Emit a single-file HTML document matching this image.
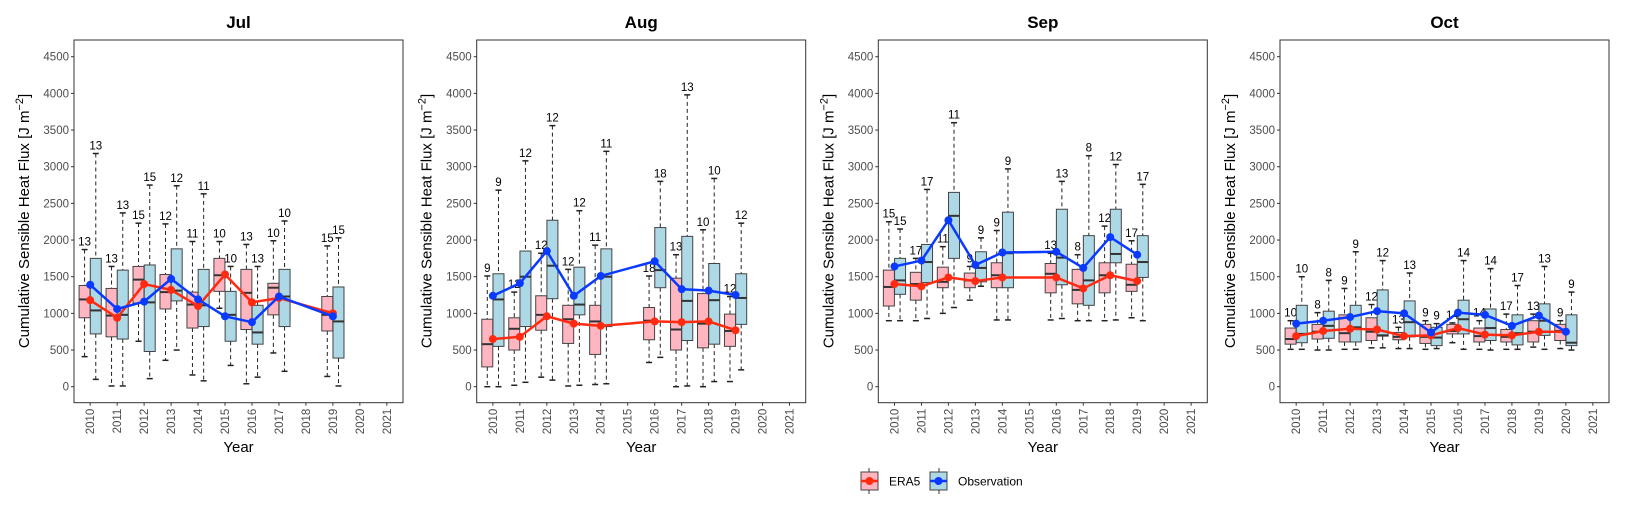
<!DOCTYPE html>
<html><head><meta charset="utf-8"><style>
body{margin:0;background:#fff;}
svg{display:block;font-family:"Liberation Sans",Arial,sans-serif;}
</style></head><body>
<svg id="chart" width="1626" height="507" viewBox="0 0 1626 507" xmlns="http://www.w3.org/2000/svg"></svg>
<script>
const years = [2010,2011,2012,2013,2014,2015,2016,2017,2018,2019,2020,2021];
const yTicks = [0,500,1000,1500,2000,2500,3000,3500,4000,4500];
const months = ["Jul","Aug","Sep","Oct"];
// rows: [year, min, q1, median, q3, max, n, mean]
const julEra = [[2010,410,940,1190,1380,1870,13,1180],[2011,10,680,970,1340,1640,13,940],[2012,620,1140,1460,1640,2230,15,1400],[2013,360,1060,1290,1530,2220,12,1320],[2014,160,800,1120,1290,1980,11,1100],[2015,1070,1300,1520,1750,1980,10,1530],[2016,40,780,1280,1600,1940,13,1150],[2017,460,980,1350,1410,1990,10,1210],[2019,140,760,980,1230,1920,15,1000]];
const julObs = [[2010,100,720,1040,1750,3180,13,1390],[2011,10,650,980,1590,2370,13,1060],[2012,110,480,1150,1660,2750,15,1160],[2013,500,1170,1310,1880,2740,12,1470],[2014,80,820,1110,1600,2630,11,1190],[2015,290,620,980,1300,1640,10,960],[2016,130,580,740,1110,1640,13,880],[2017,210,820,1230,1600,2260,10,1230],[2019,10,390,890,1360,2030,15,960]];
const augEra = [[2010,0,270,580,920,1510,9,650],[2011,20,500,790,940,1290,12,680],[2012,130,770,980,1240,1820,12,960],[2013,10,590,920,1110,1600,12,860],[2014,30,440,890,1110,1930,11,830],[2016,330,640,900,1080,1510,18,890],[2017,0,500,780,1480,1800,13,880],[2018,0,530,860,1270,2140,10,890],[2019,70,550,760,990,1230,12,770]];
const augObs = [[2010,0,550,1190,1540,2680,9,1240],[2011,60,820,1500,1850,3080,12,1410],[2012,90,1200,1650,2270,3560,12,1850],[2013,20,980,1120,1630,2400,12,1240],[2014,40,820,1500,1880,3210,11,1510],[2016,400,1350,1590,2170,2800,18,1710],[2017,10,630,1170,2050,3980,13,1330],[2018,70,580,1180,1680,2840,10,1310],[2019,230,850,1210,1540,2230,12,1250]];
const sepEra = [[2010,900,1100,1360,1590,2250,15,1400],[2011,900,1180,1400,1560,1750,17,1370],[2012,1000,1350,1430,1630,1910,11,1490],[2013,1180,1350,1450,1550,1640,9,1440],[2014,910,1350,1520,1690,2130,9,1490],[2016,910,1280,1540,1680,1820,13,1490],[2017,900,1130,1320,1600,1800,8,1340],[2018,900,1280,1520,1690,2190,12,1520],[2019,940,1300,1390,1670,1990,17,1440]];
const sepObs = [[2010,900,1260,1450,1750,2150,15,1640],[2011,930,1420,1700,1940,2690,17,1720],[2012,1080,1750,2330,2650,3600,11,2270],[2013,1370,1430,1620,1840,2030,9,1660],[2014,910,1350,1820,2380,2970,9,1830],[2016,930,1390,1760,2420,2800,13,1840],[2017,900,1110,1450,2060,3150,8,1620],[2018,910,1690,1810,2420,3030,12,2040],[2019,900,1490,1700,2060,2760,17,1800]];
const octEra = [[2010,510,580,650,800,900,10,690],[2011,500,650,750,850,1010,8,760],[2012,510,610,730,980,1340,9,790],[2013,530,630,750,940,1120,12,780],[2014,520,640,680,740,810,13,690],[2015,510,590,680,850,900,9,700],[2016,600,720,760,850,870,14,800],[2017,510,610,690,800,900,14,710],[2018,510,610,680,780,990,17,700],[2019,540,610,750,900,990,13,750],[2020,520,630,760,850,900,9,750]];
const octObs = [[2010,510,600,720,1110,1500,10,860],[2011,500,660,830,1030,1450,8,900],[2012,510,610,810,1110,1840,9,950],[2013,530,690,700,1320,1720,12,1030],[2014,520,680,880,1170,1550,13,1000],[2015,520,560,670,810,860,9,740],[2016,510,720,920,1180,1720,14,1010],[2017,500,630,800,1060,1610,14,980],[2018,510,570,730,980,1380,17,830],[2019,510,700,900,1130,1640,13,970],[2020,500,560,600,980,1290,9,750]];
const eraSets = [julEra,augEra,sepEra,octEra];
const obsSets = [julObs,augObs,sepObs,octObs];

const svg = document.getElementById('chart');
const NS = "http://www.w3.org/2000/svg";
function mk(tag, attrs, parent, text){
  const e = document.createElementNS(NS, tag);
  for (const k in attrs) e.setAttribute(k, attrs[k]);
  if (text !== undefined) e.textContent = text;
  (parent||svg).appendChild(e);
  return e;
}
const lefts = [74,476.7,878.3,1280];
const W = 329, TOP = 40, BOT = 402.7;
const yScale = v => 386.7 - v*0.07333;
const step = W/(years.length-1+1.2);

months.forEach((m, pi) => {
  const L = lefts[pi];
  const xScale = yr => L + (0.6 + years.indexOf(yr))*step;
  const g = mk('g', {}, svg);
  
  
  const t = mk('text', {x: L+W/2, y: 28, 'text-anchor':'middle', 'font-size':17, 'font-weight':'bold', fill:'#000'}, g, m);
  
  
  const fr = mk('rect', {x:L, y:TOP, width:W, height:BOT-TOP, fill:'#fff', stroke:'#333', 'stroke-width':1}, g);
  
  
  yTicks.forEach(v => {
    const y = yScale(v);
    mk('line', {x1:L-3, x2:L, y1:y, y2:y, stroke:'#333'}, g);
    const tl = mk('text', {x:L-5, y:y+4, 'text-anchor':'end', 'font-size':11.5, fill:'#4d4d4d'}, g, v);
    
    
  });
  years.forEach(yr => {
    const x = xScale(yr);
    mk('line', {x1:x, x2:x, y1:BOT, y2:BOT+3, stroke:'#333'}, g);
    const tl = mk('text', {x:0, y:0, transform:`translate(${x+4},${BOT+6}) rotate(-90)`, 'text-anchor':'end', 'font-size':11.5, fill:'#4d4d4d'}, g, yr);
    
    
  });
  const yt = mk('text', {x:0, y:0, transform:`translate(${L-45},221) rotate(-90)`, 'text-anchor':'middle', 'font-size':15, fill:'#000'}, g);
  
  
  yt.innerHTML = 'Cumulative Sensible Heat Flux [J m<tspan dy="-6" font-size="11">−2</tspan><tspan dy="6">]</tspan>';
  const xt = mk('text', {x:L+W/2, y:452, 'text-anchor':'middle', 'font-size':15, fill:'#000'}, g, 'Year');
  
  

  const series = [[eraSets[pi], -5.6, '#ffb6c1', '#ff2a10', 'era5'], [obsSets[pi], 5.6, '#add8e6', '#0a3aff', 'observation']];
  series.forEach(([data, off, fill, lc, nm]) => {
    data.forEach(r => {
      const [yr, mn, q1, md, q3, mx, n] = r;
      const cx = xScale(yr) + off, bw = 11;
      const bg = mk('g', {}, g);
      
      
      mk('line', {x1:cx, x2:cx, y1:yScale(mx), y2:yScale(q3), stroke:'#222', 'stroke-dasharray':'4,3'}, bg);
      mk('line', {x1:cx, x2:cx, y1:yScale(q1), y2:yScale(mn), stroke:'#222', 'stroke-dasharray':'4,3'}, bg);
      mk('line', {x1:cx-3, x2:cx+3, y1:yScale(mx), y2:yScale(mx), stroke:'#222', 'stroke-width':1.5}, bg);
      mk('line', {x1:cx-3, x2:cx+3, y1:yScale(mn), y2:yScale(mn), stroke:'#222', 'stroke-width':1.5}, bg);
      mk('rect', {x:cx-bw/2, y:yScale(q3), width:bw, height:yScale(q1)-yScale(q3), fill:fill, stroke:'#444', 'stroke-width':1}, bg);
      mk('line', {x1:cx-bw/2, x2:cx+bw/2, y1:yScale(md), y2:yScale(md), stroke:'#333', 'stroke-width':2}, bg);
      const nl = mk('text', {x:cx, y:yScale(mx)-4, 'text-anchor':'middle', 'font-size':11.5, fill:'#000'}, bg, n);
      
      
    });
  });
  series.forEach(([data, off, fill, lc, nm]) => {
    const pts = data.map(r => `${xScale(r[0])},${yScale(r[7])}`).join(' ');
    const pl = mk('polyline', {points:pts, fill:'none', stroke:lc, 'stroke-width':2.5}, g);
    
    
    data.forEach(r => {
      const c = mk('circle', {cx:xScale(r[0]), cy:yScale(r[7]), r:4, fill:lc}, g);
      
      
    });
  });
});
</script>
<svg width="1626" height="507" style="position:absolute;left:0;top:0;font-family:'Liberation Sans',Arial,sans-serif" xmlns="http://www.w3.org/2000/svg">
  <g>
    <line x1="869" y1="468" x2="869" y2="494" stroke="#333"/>
    <rect x="861" y="472" width="17" height="18" fill="#ffb6c1" stroke="#444"/>
    <line x1="861" y1="481" x2="878" y2="481" stroke="#ff2a10" stroke-width="2.5"/>
    <circle cx="869.5" cy="481" r="4" fill="#ff2a10"/>
    <text x="889" y="485.5" font-size="12" fill="#000">ERA5</text>
  </g>
  <g>
    <line x1="939" y1="468" x2="939" y2="494" stroke="#333"/>
    <rect x="930" y="472" width="17" height="18" fill="#add8e6" stroke="#444"/>
    <line x1="930" y1="481" x2="947" y2="481" stroke="#0a3aff" stroke-width="2.5"/>
    <circle cx="938.5" cy="481" r="4" fill="#0a3aff"/>
    <text x="958" y="485.5" font-size="12" fill="#000">Observation</text>
  </g>
</svg>
</body></html>
